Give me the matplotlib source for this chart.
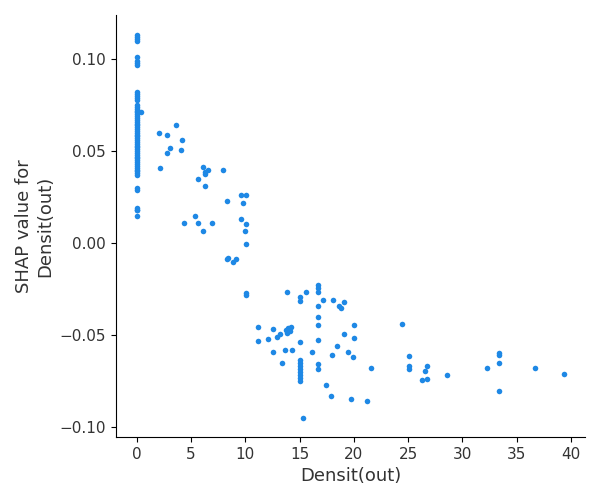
import numpy as np
import matplotlib.pyplot as plt

# feature values at zero (vertical column)
x_zero_y = [0.113, 0.112, 0.111, 0.110, 0.101, 0.099, 0.098, 0.097,
            0.082, 0.081, 0.080, 0.079, 0.078,
            0.075, 0.074, 0.073, 0.072, 0.071, 0.070, 0.069, 0.068, 0.067,
            0.066, 0.065, 0.064, 0.063, 0.062, 0.061, 0.060, 0.059, 0.058,
            0.057, 0.056, 0.055, 0.054, 0.053, 0.052, 0.051, 0.050, 0.049,
            0.048, 0.047, 0.046, 0.045, 0.044, 0.043, 0.042, 0.041, 0.040,
            0.039, 0.038, 0.037, 0.030, 0.029, 0.019, 0.018, 0.018, 0.015]

densit = [0.4, 2.06, 2.8, 3.6, 4.2, 3.1, 2.8, 4.1, 2.15, 6.1, 6.6, 6.3, 6.3,
          7.9, 5.65, 6.3, 9.6, 10.1, 8.3, 9.8, 5.4, 4.35, 5.65, 6.9, 6.1,
          9.6, 10.1, 10.0, 10.1, 8.3, 8.4, 8.9, 9.15, 10.1, 10.1,
          13.85, 15.05, 15.05, 15.6, 16.7, 16.7, 16.7, 17.2, 18.1, 18.65,
          18.8, 19.1, 16.7, 16.7, 16.7, 20.0, 11.2, 12.55, 13.75, 13.95,
          14.2, 13.85, 14.1, 13.2, 12.9, 11.2, 12.1, 15.05, 16.7, 18.4,
          19.1, 20.0, 12.55, 13.65, 14.3, 16.15, 13.4, 18.0, 19.5, 19.9,
          15.05, 15.05, 15.05, 15.05, 15.05, 15.05, 15.05, 15.05,
          16.7, 16.7, 21.6, 17.45, 17.9, 19.75, 21.2, 15.3,
          24.45, 25.1, 25.1, 25.1, 26.75, 26.6, 26.3, 26.75, 28.6, 32.3,
          33.4, 33.4, 33.4, 33.4, 36.7, 39.4]
shap_vals = [0.071, 0.0596, 0.059, 0.064, 0.056, 0.0515, 0.0488, 0.0504,
             0.041, 0.0415, 0.040, 0.0388, 0.0375, 0.0395, 0.035, 0.0308,
             0.026, 0.026, 0.0227, 0.0216, 0.0145, 0.0107, 0.0107, 0.0112,
             0.0064, 0.0129, 0.0102, 0.0064, -0.0007, -0.0089, -0.0083,
             -0.0105, -0.0089, -0.0273, -0.0284,
             -0.0268, -0.0295, -0.0317, -0.0268, -0.023, -0.0246, -0.0268,
             -0.0311, -0.0311, -0.0344, -0.0355, -0.0322, -0.0344, -0.0404,
             -0.0447, -0.0447, -0.0458, -0.0469, -0.0474, -0.0464, -0.0458,
             -0.049, -0.048, -0.0496, -0.0513, -0.0534, -0.0523, -0.054,
             -0.0529, -0.0561, -0.0496, -0.0518, -0.0594, -0.0583, -0.0583,
             -0.0594, -0.0654, -0.061, -0.0594, -0.0621,
             -0.0638, -0.0654, -0.067, -0.0686, -0.070, -0.0716, -0.0732,
             -0.0747, -0.0659, -0.0686, -0.068, -0.0773, -0.0833, -0.085,
             -0.086, -0.0953,
             -0.0442, -0.0616, -0.067, -0.0686, -0.067, -0.0697, -0.0746,
             -0.0741, -0.0719, -0.068, -0.060, -0.061, -0.0654, -0.0806,
             -0.068, -0.0714]

x = np.concatenate([np.zeros(len(x_zero_y)), densit])
y = np.concatenate([x_zero_y, shap_vals])

fig = plt.figure(figsize=(6, 5), dpi=100)
ax = fig.add_axes([0.193, 0.126, 0.782, 0.844])
ax.scatter(x, y, s=16, color='#1E88E5', linewidth=0)

ax.set_xlim(-1.94, 41.3)
ax.set_ylim(-0.1054, 0.124)
ax.set_xticks([0, 5, 10, 15, 20, 25, 30, 35, 40])
ax.set_yticks([-0.10, -0.05, 0.00, 0.05, 0.10])
ax.set_yticklabels(['\u22120.10', '\u22120.05', '0.00', '0.05', '0.10'])
ax.spines['top'].set_visible(False)
ax.spines['right'].set_visible(False)
ax.tick_params(labelsize=11, labelcolor='#333333')
ax.set_xlabel('Densit(out)', fontsize=13, color='#333333')
ax.set_ylabel('SHAP value for\nDensit(out)', fontsize=13, color='#333333')

fig.savefig('out.png', dpi=100)
